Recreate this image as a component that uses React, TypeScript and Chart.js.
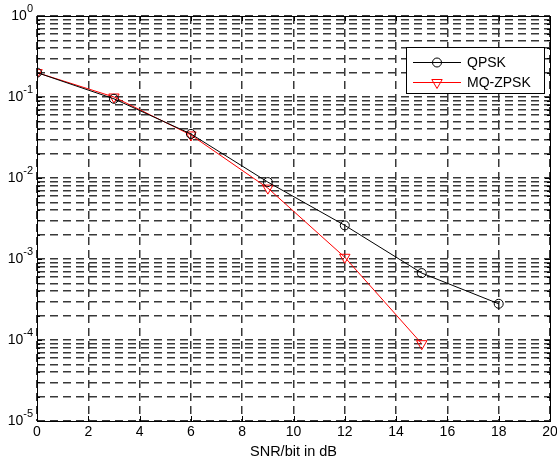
import React, { useEffect, useRef } from "react";
import { Chart, registerables } from "chart.js";

Chart.register(...registerables);

// ---- Data ----
const snrQpsk = [0, 3, 6, 9, 12, 15, 18];
const berQpsk = [0.2, 0.095, 0.035, 0.0089, 0.0026, 0.00067, 0.00028];
const snrMq = [0, 3, 6, 9, 12, 15];
const berMq = [0.2, 0.1, 0.034, 0.0075, 0.00105, 0.00009];
const seriesNames = ["QPSK", "MQ-ZPSK"];
const seriesColors = ["#000000", "#ff0000"];
const xTickValues = [0, 2, 4, 6, 8, 10, 12, 14, 16, 18, 20];
const yDecadeExps = [-5, -4, -3, -2, -1, 0];
const xTitle = "SNR/bit in dB";

const FONT = "'Liberation Sans', Arial, Helvetica, sans-serif";
const GRID_COLOR = "#383838";
const DASH = [8, 5];

function drawMarker(ctx: CanvasRenderingContext2D, kind: string, x: number, y: number, color: string) {
  ctx.save();
  ctx.strokeStyle = color;
  ctx.lineWidth = 1;
  ctx.setLineDash([]);
  ctx.beginPath();
  if (kind === "circle") {
    ctx.arc(x, y, 4.5, 0, Math.PI * 2);
  } else {
    const r = 6;
    ctx.moveTo(x, y + r);
    ctx.lineTo(x - r * Math.sin(Math.PI / 3), y - r / 2);
    ctx.lineTo(x + r * Math.sin(Math.PI / 3), y - r / 2);
    ctx.closePath();
  }
  ctx.stroke();
  ctx.restore();
}

const framePlugin = {
  id: "matlabFrame",
  afterDraw(chart: any) {
    const ctx: CanvasRenderingContext2D = chart.ctx;
    const a = chart.chartArea;
    const ys = chart.scales.y;
    const xs = chart.scales.x;
    ctx.save();
    // tick marks inside the axes
    ctx.strokeStyle = "#000";
    ctx.lineWidth = 1;
    ctx.setLineDash([]);
    ctx.beginPath();
    ys.ticks.forEach((t: any) => {
      const py = Math.round(ys.getPixelForValue(t.value)) + 0.5;
      const isMajor = Math.abs(Math.log10(t.value) - Math.round(Math.log10(t.value))) < 1e-9;
      const len = isMajor ? 5 : 3;
      ctx.moveTo(a.left, py);
      ctx.lineTo(a.left + len, py);
      ctx.moveTo(a.right, py);
      ctx.lineTo(a.right - len, py);
    });
    xTickValues.forEach((v) => {
      const px = Math.round(xs.getPixelForValue(v)) + 0.5;
      ctx.moveTo(px, a.bottom);
      ctx.lineTo(px, a.bottom - 5);
      ctx.moveTo(px, a.top);
      ctx.lineTo(px, a.top + 5);
    });
    ctx.stroke();
    // frame
    ctx.strokeStyle = "#000";
    ctx.lineWidth = 1;
    ctx.strokeRect(Math.round(a.left) + 0.5, Math.round(a.top) + 0.5, Math.round(a.right - a.left), Math.round(a.bottom - a.top));

    // y labels 10^k
    ctx.fillStyle = "#000";
    const rightX = a.left - 4;
    yDecadeExps.forEach((k) => {
      const py = ys.getPixelForValue(Math.pow(10, k));
      const expText = k === 0 ? "0" : "-" + String(-k);
      ctx.font = `11px ${FONT}`;
      const ew = ctx.measureText(expText).width;
      ctx.textAlign = "right";
      ctx.textBaseline = "alphabetic";
      ctx.fillText(expText, rightX, py - 4);
      ctx.font = `14px ${FONT}`;
      ctx.textBaseline = "middle";
      ctx.fillText("10", rightX - ew, py + 0.5);
    });

    // legend
    const lx = 406, ly = 47, lw = 138, lh = 46;
    ctx.fillStyle = "#fff";
    ctx.fillRect(lx + 0.5, ly + 0.5, lw, lh);
    ctx.strokeStyle = "#000";
    ctx.strokeRect(lx + 0.5, ly + 0.5, lw, lh);
    const rowsY = [62.5, 82.5];
    const kinds = ["circle", "triangle"];
    seriesNames.forEach((name, i) => {
      const yy = rowsY[i];
      ctx.strokeStyle = seriesColors[i];
      ctx.beginPath();
      ctx.moveTo(413, yy);
      ctx.lineTo(461, yy);
      ctx.stroke();
      drawMarker(ctx, kinds[i], 437, yy, seriesColors[i]);
      ctx.fillStyle = "#000";
      ctx.font = `14px ${FONT}`;
      ctx.textAlign = "left";
      ctx.textBaseline = "middle";
      ctx.fillText(name, 467, yy + 0.5);
    });
    ctx.restore();
  },
};

const bgPlugin = {
  id: "whiteBg",
  beforeDraw(chart: any) {
    const ctx = chart.ctx;
    ctx.save();
    ctx.fillStyle = "#fff";
    ctx.fillRect(0, 0, chart.width, chart.height);
    ctx.restore();
  },
};

export default function App() {
  const ref = useRef<HTMLCanvasElement | null>(null);
  useEffect(() => {
    if (!ref.current) return;
    const yTicks: number[] = [];
    for (let k = -5; k < 0; k++) {
      for (let m = 1; m <= 9; m++) yTicks.push(m * Math.pow(10, k));
    }
    yTicks.push(1);
    const chart = new Chart(ref.current, {
      type: "line",
      data: {
        datasets: [
          {
            label: seriesNames[0],
            data: snrQpsk.map((x, i) => ({ x, y: berQpsk[i] })),
            borderColor: seriesColors[0],
            backgroundColor: "rgba(0,0,0,0)",
            borderWidth: 1,
            pointStyle: "circle",
            pointRadius: 4.5,
            pointBorderWidth: 1,
            pointBorderColor: seriesColors[0],
            pointBackgroundColor: "rgba(0,0,0,0)",
            tension: 0,
          },
          {
            label: seriesNames[1],
            data: snrMq.map((x, i) => ({ x, y: berMq[i] })),
            borderColor: seriesColors[1],
            backgroundColor: "rgba(0,0,0,0)",
            borderWidth: 1,
            pointStyle: "triangle",
            pointRotation: 180,
            pointRadius: 6,
            pointBorderWidth: 1,
            pointBorderColor: seriesColors[1],
            pointBackgroundColor: "rgba(0,0,0,0)",
            tension: 0,
          },
        ],
      },
      options: {
        animation: false,
        responsive: false,
        events: [],
        layout: { padding: { left: 0, right: 7, top: 16, bottom: 0 } },
        plugins: { legend: { display: false }, tooltip: { enabled: false } },
        scales: {
          x: {
            type: "linear",
            min: 0,
            max: 20,
            afterBuildTicks: (s: any) => {
              s.ticks = xTickValues.map((v) => ({ value: v }));
            },
            afterFit: (s: any) => {
              s.height = 43;
              s.paddingLeft = 0;
              s.paddingRight = 0;
            },
            ticks: {
              color: "#000",
              font: { family: FONT, size: 14 },
              padding: 3,
              maxRotation: 0,
              autoSkip: false,
              callback: (v: any) => String(v),
            },
            grid: { color: GRID_COLOR, lineWidth: 1.5, drawTicks: false },
            border: { display: false, dash: DASH },
            title: {
              display: true,
              text: xTitle,
              color: "#000",
              font: { family: FONT, size: 14.5 },
              padding: { top: 0, bottom: 3 },
            },
          },
          y: {
            type: "logarithmic",
            min: 1e-5,
            max: 1,
            afterBuildTicks: (s: any) => {
              s.ticks = yTicks.map((v) => ({ value: v }));
            },
            afterFit: (s: any) => {
              s.width = 37;
              s.paddingTop = 0;
              s.paddingBottom = 0;
            },
            ticks: { display: false, autoSkip: false },
            grid: { color: GRID_COLOR, lineWidth: 1.5, drawTicks: false },
            border: { display: false, dash: DASH },
          },
        },
      },
      plugins: [bgPlugin, framePlugin],
    } as any);
    return () => chart.destroy();
  }, []);
  return (
    <div style={{ position: "absolute", left: 0, top: 0, width: 557, height: 464, background: "#fff" }}>
      <canvas ref={ref} width={557} height={464} style={{ display: "block" }} />
    </div>
  );
}
